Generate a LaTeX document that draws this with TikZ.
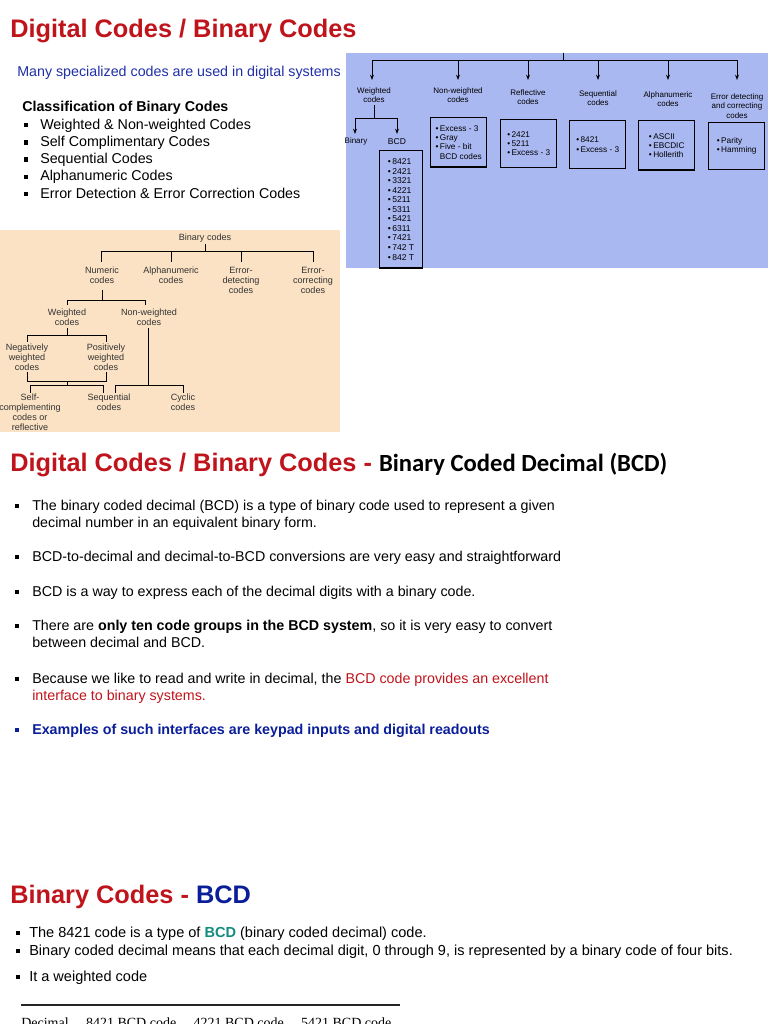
\documentclass[tikz,border=0pt]{standalone}
\usepackage{fontspec}
\setmainfont{Liberation Sans}
\newfontfamily\calib{Carlito}
\newfontfamily\tms{Liberation Serif}
\usetikzlibrary{arrows.meta}
\definecolor{ttl}{HTML}{C0141C}
\definecolor{bpanel}{HTML}{AAB8F2}
\definecolor{ppanel}{HTML}{FBE2C4}
\definecolor{blu}{HTML}{1F2FA8}
\definecolor{dblu}{HTML}{0A1E9A}
\definecolor{tealc}{HTML}{128C7E}
\tikzset{
  title/.style={anchor=base west,inner sep=0,text=ttl,font=\fontsize{19}{22}\selectfont\bfseries},
  body/.style={anchor=base west,inner sep=0,font=\fontsize{10.7}{12.5}\selectfont,align=left},
  bul/.style={fill=black,minimum size=3.2pt,inner sep=0,draw=none},
  tb/.style={align=center,inner sep=0,font=\fontsize{6}{6.9}\selectfont},
  tp/.style={align=center,inner sep=0,font=\fontsize{6.8}{7.5}\selectfont,text=black!80},
  bx/.style={draw,line width=1.1pt,align=left,anchor=north west,inner sep=2pt,font=\fontsize{6.2}{6.9}\selectfont},
  ln/.style={line width=0.6pt},
  ar/.style={line width=0.7pt,-{Stealth[length=4pt,width=3pt]}},
}
\newcommand{\bd}{\textbullet\,}
\begin{document}
\begin{tikzpicture}[x=0.75pt,y=-0.75pt]
\useasboundingbox (0,0) rectangle (768,1024);
\fill[white] (0,0) rectangle (768,1024);
% title 1
\node[title] (t1) at (10,38) {Digital Codes / Binary Codes};
\node[body,text=blu] (s1) at (17,76) {Many specialized codes are used in digital systems};
\node[body,font=\fontsize{10.7}{12}\selectfont\bfseries] (c1) at (22,112) {Classification of Binary Codes};
\foreach \t [count=\i] in {Weighted \& Non-weighted Codes,Self Complimentary Codes,Sequential Codes,Alphanumeric Codes,Error Detection \& Error Correction Codes}{
  \node[bul] (b\i) at (26,{108+17.2*\i}) {};
  \node[body] (bt\i) at (40,{112+17.2*\i}) {\t};
}
% blue panel
\fill[bpanel] (346,53) rectangle (768,268);
\coordinate (top) at (563,53);
\coordinate (hj) at (563,60);
\draw[ln] (top) -- (hj);
\draw[ln] (372,60) -- (737,60);
\foreach \x/\n in {372/a,458/b,528/c,598/d,668/e,737/f}{
  \coordinate (s\n) at (\x,60);
  \coordinate (e\n) at (\x,80);
  \draw[ar] (s\n) -- (e\n);
}
\node[tb] (lw) at (374,95) {Weighted\\codes};
\node[tb] (lnw) at (458,95) {Non-weighted\\codes};
\node[tb] (lr) at (528,97) {Reflective\\codes};
\node[tb] (ls) at (598,98) {Sequential\\codes};
\node[tb] (la) at (668,99) {Alphanumeric\\codes};
\node[tb] (le) at (737,106) {Error detecting\\and correcting\\codes};
\coordinate (w1) at (374,105);
\coordinate (w2) at (374,118);
\draw[ln] (w1) -- (w2);
\draw[ln] (355,118) -- (397,118);
\coordinate (bi1) at (355,118); \coordinate (bi2) at (355,134);
\coordinate (bc1) at (397,118); \coordinate (bc2) at (397,134);
\draw[ar] (bi1) -- (bi2);
\draw[ar] (bc1) -- (bc2);
\node[tb,anchor=center] (lbin) at (356,141) {Binary};
\node[tb,font=\fontsize{6.4}{7}\selectfont] (lbcd) at (397,142) {BCD};
\node[bx,minimum width=32pt,minimum height=88pt,font=\fontsize{6.4}{7.15}\selectfont,inner sep=3pt] (bbcd) at (379,150) {\bd 8421\\\bd 2421\\\bd 3321\\\bd 4221\\\bd 5211\\\bd 5311\\\bd 5421\\\bd 6311\\\bd 7421\\\bd 742 T\\\bd 842 T};
\node[bx,minimum width=42pt,minimum height=37pt] (bnw) at (430,117) {\bd Excess - 3\\\bd Gray\\\bd Five - bit\\\phantom{\bd}BCD codes};
\node[bx,minimum width=42pt,minimum height=36pt] (brf) at (500,119) {\bd 2421\\\bd 5211\\\bd Excess - 3};
\node[bx,minimum width=42pt,minimum height=36pt] (bsq) at (569,120) {\bd 8421\\\bd Excess - 3};
\node[bx,minimum width=42pt,minimum height=37pt] (bal) at (638,120) {\bd ASCII\\\bd EBCDIC\\\bd Hollerith};
\node[bx,minimum width=42pt,minimum height=35pt] (ber) at (708,122) {\bd Parity\\\bd Hamming};
% peach panel
\fill[ppanel] (0,230) rectangle (340,432);
\node[tp] (pb) at (205,238) {Binary codes};
\draw[ln] (205,244) -- (205,251);
\draw[ln] (101,251) -- (313,251);
\foreach \x in {101,171,241,313}{\draw[ln] (\x,251) -- (\x,262);}
\node[tp] (pn) at (102,275) {Numeric\\codes};
\node[tp] (pa) at (171,275) {Alphanumeric\\codes};
\node[tp] (ped) at (241,280) {Error-\\detecting\\codes};
\node[tp] (pec) at (313,280) {Error-\\correcting\\codes};
\draw[ln] (102,290) -- (102,300);
\draw[ln] (67,300) -- (145,300);
\draw[ln] (67,300) -- (67,305);
\draw[ln] (145,300) -- (145,305);
\node[tp] (pw) at (67,317) {Weighted\\codes};
\node[tp] (pnw) at (149,317) {Non-weighted\\codes};
\draw[ln] (67,328) -- (67,335);
\draw[ln] (27,335) -- (106,335);
\draw[ln] (27,335) -- (27,342);
\draw[ln] (106,335) -- (106,342);
\node[tp] (pneg) at (27,357) {Negatively\\weighted\\codes};
\node[tp] (ppos) at (106,357) {Positively\\weighted\\codes};
\draw[ln] (27,372) -- (27,381) -- (106,381) -- (106,372);
\draw[ln] (67,381) -- (67,385);
\draw[ln] (30,393) -- (30,385) -- (103,385) -- (103,393);
\draw[ln] (148,328) -- (148,385);
\draw[ln] (115,393) -- (115,385) -- (183,385) -- (183,393);
\node[tp,anchor=north] (psc) at (30,394) {Self-\\complementing\\codes or\\reflective};
\node[tp,anchor=north] (psq) at (109,394) {Sequential\\codes};
\node[tp,anchor=north] (pcy) at (183,394) {Cyclic\\codes};
% title 2
\node[title] (t2) at (10,471) {Digital Codes / Binary Codes - \textcolor{black}{\calib\fontsize{18.5}{21}\selectfont Binary Coded Decimal (BCD)}};
\foreach \y in {506,557,592,626,679}{\node[bul,minimum size=3pt] at (17,\y) {};}
\node[bul,minimum size=3pt,fill=dblu] at (17,730) {};
\node[body] (p1) at (32,510) {The binary coded decimal (BCD) is a type of binary code used to represent a given};
\node[body] (p1b) at (32,527) {decimal number in an equivalent binary form.};
\node[body] (p2) at (32,561) {BCD-to-decimal and decimal-to-BCD conversions are very easy and straightforward};
\node[body] (p3) at (32,596) {BCD is a way to express each of the decimal digits with a binary code.};
\node[body] (p4) at (32,630) {There are \textbf{only ten code groups in the BCD system}, so it is very easy to convert};
\node[body] (p4b) at (32,647) {between decimal and BCD.};
\node[body] (p5) at (32,683) {Because we like to read and write in decimal, the \textcolor{ttl}{BCD code provides an excellent}};
\node[body,text=ttl] (p5b) at (32,700) {interface to binary systems.};
\node[body,text=dblu,font=\fontsize{10.7}{12}\selectfont\bfseries] (p6) at (32,734) {Examples of such interfaces are keypad inputs and digital readouts};
% title 3
\node[title] (t3) at (10,903) {Binary Codes - \textcolor{dblu}{BCD}};
\foreach \y in {933,951,977}{\node[bul,minimum size=3pt] at (18,\y) {};}
\node[body,font=\fontsize{10.9}{12.5}\selectfont] (q1) at (29,937) {The 8421 code is a type of \textcolor{tealc}{\textbf{BCD}} (binary coded decimal) code.};
\node[body,font=\fontsize{10.9}{12.5}\selectfont] (q2) at (29,955) {Binary coded decimal means that each decimal digit, 0 through 9, is represented by a binary code of four bits.};
\node[body,font=\fontsize{10.9}{12.5}\selectfont] (q3) at (29,981) {It a weighted code};
\draw[line width=1.6pt,black!85] (21,1005) -- (400,1005);
\node[anchor=base west,inner sep=0,font=\tms\fontsize{10.5}{12}\selectfont] (h) at (21,1027) {Decimal\hspace{13pt}8421 BCD code\hspace{13pt}4221 BCD code\hspace{13pt}5421 BCD code};
\end{tikzpicture}
\end{document}
